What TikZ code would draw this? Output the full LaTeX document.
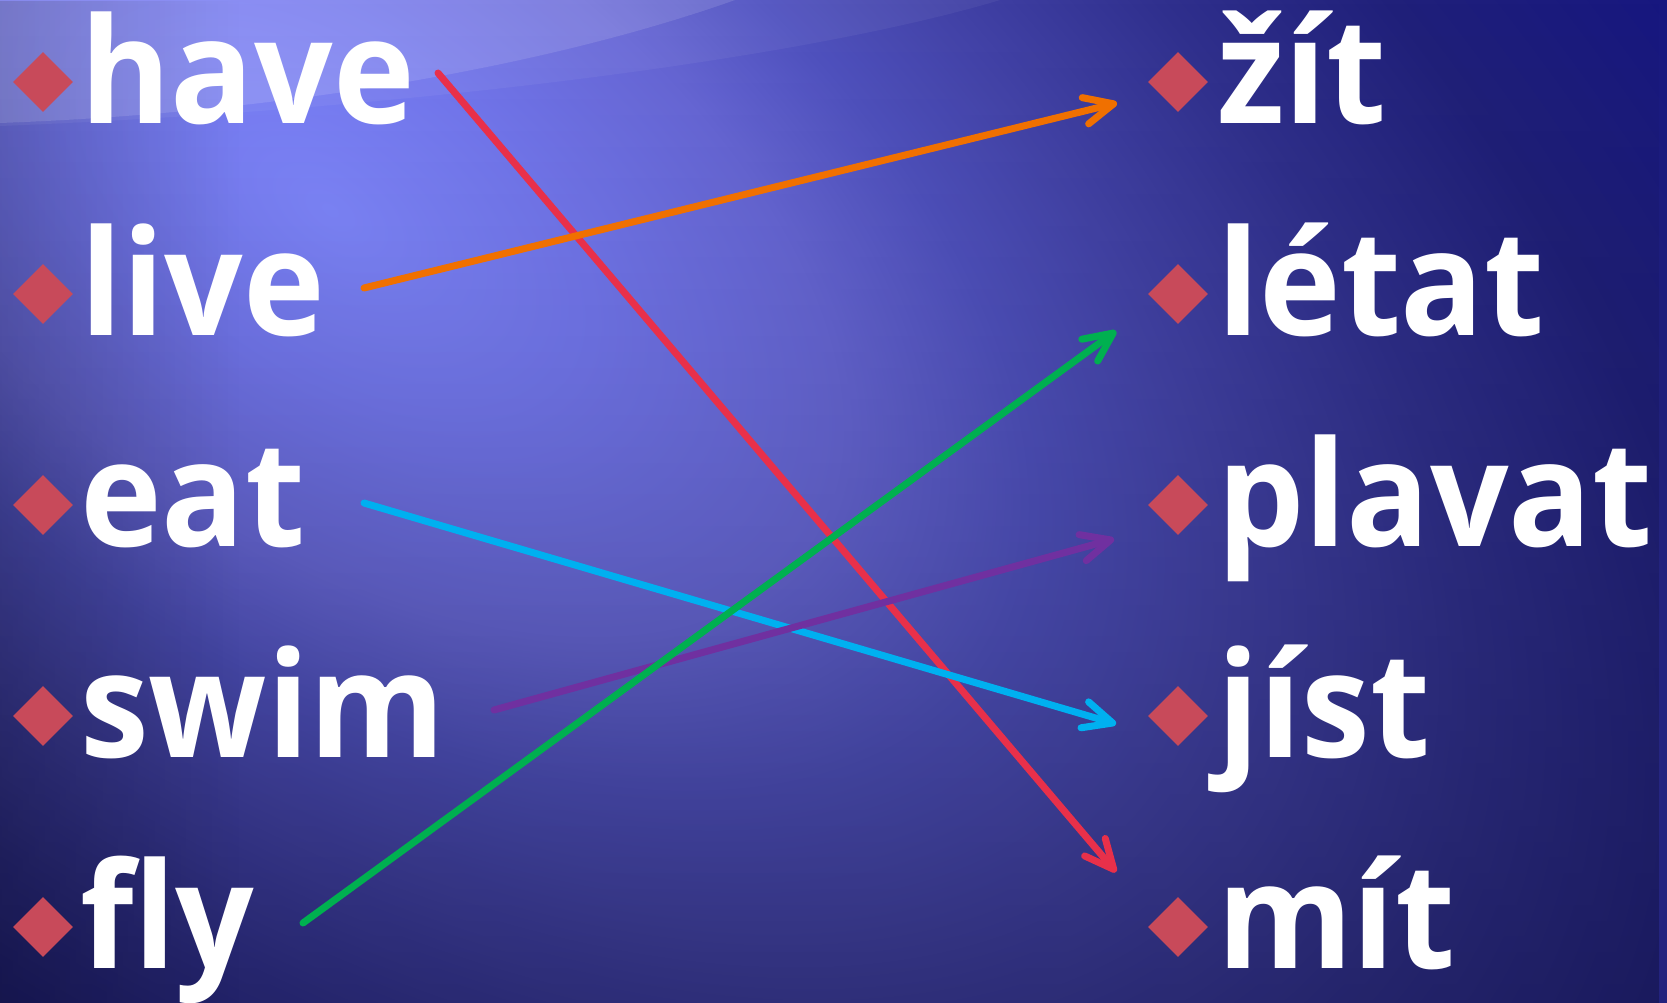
\documentclass[tikz,border=0pt]{standalone}
\usepackage{fontspec}
\setmainfont{Open Sans}[FakeStretch=0.94]
\usetikzlibrary{arrows.meta,fadings,shapes.geometric}
\definecolor{g0}{HTML}{8088FF}
\definecolor{g1}{HTML}{7478F0}
\definecolor{g2}{HTML}{6868D8}
\definecolor{g3}{HTML}{5052C0}
\definecolor{g4}{HTML}{4444AA}
\definecolor{g5}{HTML}{30308E}
\definecolor{g6}{HTML}{20207A}
\definecolor{g7}{HTML}{161680}
\definecolor{bulletred}{RGB}{200,74,90}
\definecolor{lred}{HTML}{E8304A}
\definecolor{lorange}{HTML}{F07000}
\definecolor{lgreen}{HTML}{00B050}
\definecolor{lcyan}{HTML}{00B0F0}
\definecolor{lpurple}{HTML}{7030A0}
\pgfdeclareradialshading{bgglow}{\pgfpoint{0bp}{0bp}}{color(0bp)=(g0); color(3.75bp)=(g1); color(7.25bp)=(g2); color(10bp)=(g3); color(12.5bp)=(g4); color(16.25bp)=(g5); color(20bp)=(g6); color(25bp)=(g7); color(50bp)=(g7)}
\tikzset{
  word/.style={anchor=base west, inner sep=0pt, text=white, font=\fontsize{147}{147}\selectfont\bfseries},
  bullet/.style={diamond, aspect=1, inner sep=0pt, minimum width=60pt, minimum height=60pt, fill=bulletred},
  link/.style={line width=7pt, line cap=round, -{Straight Barb[length=29pt, width=27pt, round]}}
}
\begin{document}
\begin{tikzpicture}[x=1pt, y=-1pt]
\useasboundingbox (0,0) rectangle (1667,1003);
% background
\begin{scope}
\clip (0,0) rectangle (1667,1003);
\fill[g7] (0,0) rectangle (1667,1003);
\begin{scope}[transform canvas={shift={(330,210)}, rotate=-35}]
\shade[shading=bgglow] (0,0) ellipse [x radius=2000pt, y radius=1100pt];
\end{scope}
\fill[black, path fading=north, fill opacity=0.25] (0,0) rectangle (1667,1003);
\fill[black, path fading=east, fill opacity=0.18] (0,0) rectangle (240,1003);
\fill[white, fill opacity=0.16] (0,0) -- (0,123) .. controls (300,112) and (560,62) .. (735,0) -- cycle;
\fill[white, fill opacity=0.05] (735,0) .. controls (560,62) and (300,112) .. (0,123) -- (0,126) .. controls (400,110) and (800,60) .. (1000,0) -- cycle;
\end{scope}
% bullets
\node[bullet] (bl1) at (43,82) {};
\node[bullet] (bl2) at (43,294) {};
\node[bullet] (bl3) at (43,505) {};
\node[bullet] (bl4) at (43,716) {};
\node[bullet] (bl5) at (43,927) {};
\node[bullet] (br1) at (1178,82) {};
\node[bullet] (br2) at (1178,294) {};
\node[bullet] (br3) at (1178,505) {};
\node[bullet] (br4) at (1178,716) {};
\node[bullet] (br5) at (1178,927) {};
% words
\node[word] (have) at (80,124) {have};
\node[word] (live) at (80,335) {live};
\node[word] (eat) at (80,546) {eat};
\node[word] (swim) at (80,757) {swim};
\node[word] (fly) at (80,968) {fly};
\node[word] (zit) at (1217,124) {žít};
\node[word] (letat) at (1217,335) {létat};
\node[word] (plavat) at (1217,546) {plavat};
\node[word] (jist) at (1217,757) {jíst};
\node[word] (mit) at (1217,968) {mít};
% connector ends
\coordinate (haveS) at (438,73);
\coordinate (liveS) at (364,288);
\coordinate (eatS) at (364,503);
\coordinate (swimS) at (494,710);
\coordinate (flyS) at (303,923);
\coordinate (zitE) at (1117,103);
\coordinate (letatE) at (1116,331);
\coordinate (plavatE) at (1114,539);
\coordinate (jistE) at (1116,724);
\coordinate (mitE) at (1116,872);
% connectors
\draw[link, lred] (haveS) -- (mitE);
\draw[link, lorange] (liveS) -- (zitE);
\draw[link, lcyan] (eatS) -- (jistE);
\draw[link, lpurple] (swimS) -- (plavatE);
\draw[link, lgreen] (flyS) -- (letatE);
\end{tikzpicture}
\end{document}
